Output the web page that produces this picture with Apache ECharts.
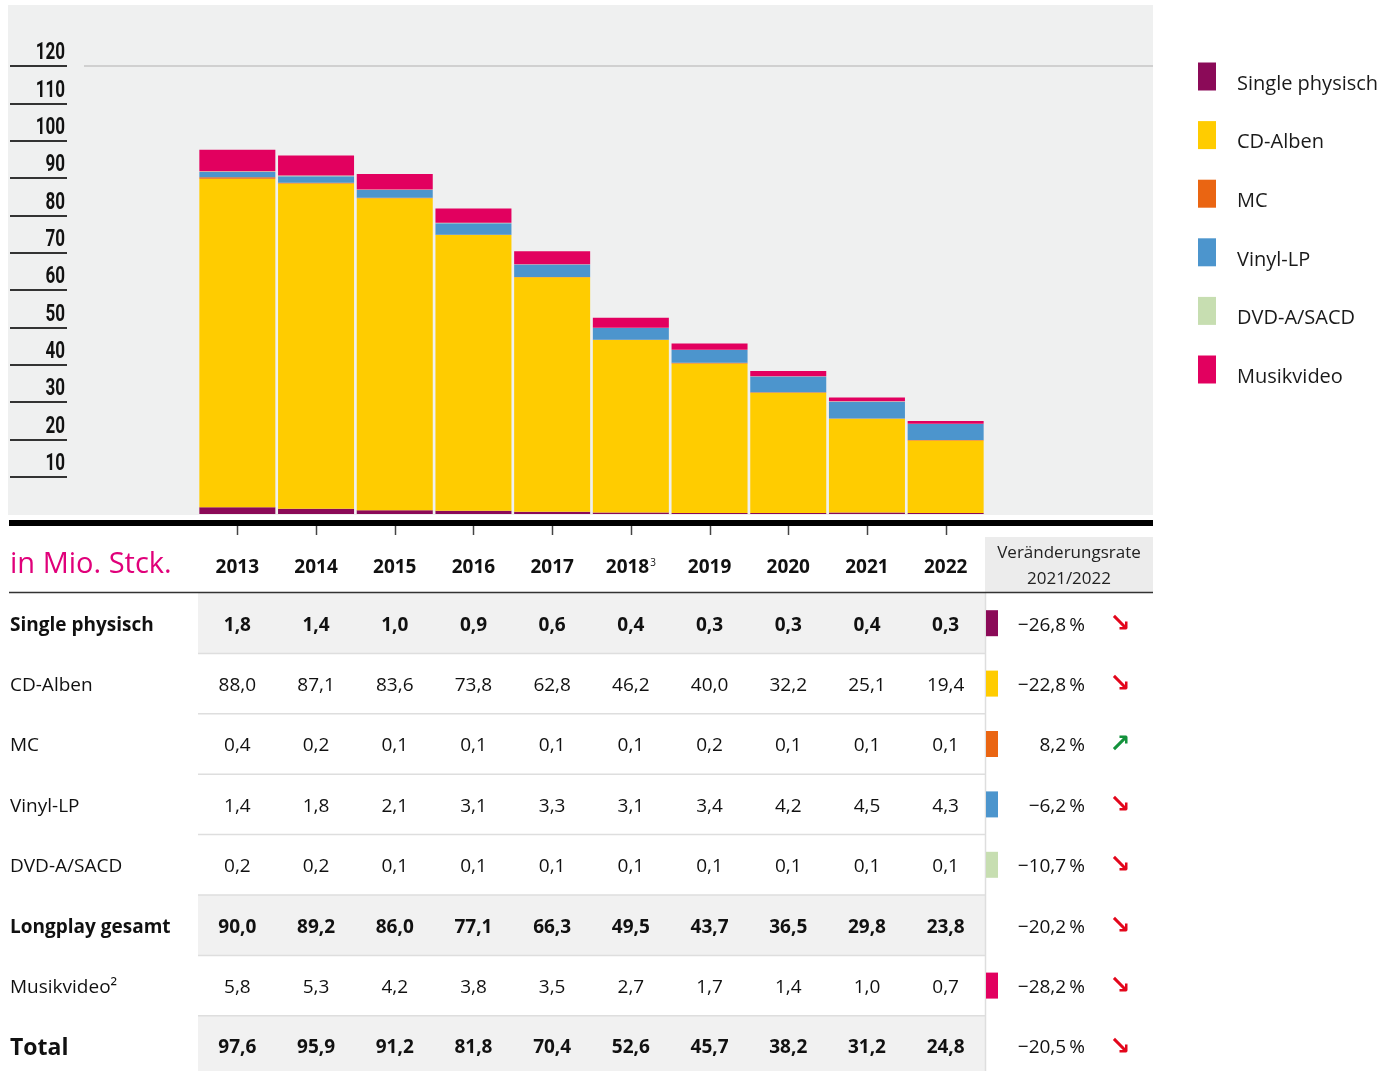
<!DOCTYPE html>
<html>
<head>
<meta charset="utf-8">
<script src="https://cdn.jsdelivr.net/npm/echarts@6/dist/echarts.min.js"></script>
<style>
html,body{margin:0;padding:0;background:#fff;}
#chart{width:1382px;height:1071px;}
</style>
</head>
<body>
<div id="chart"></div>
<script>
var years = ['2013','2014','2015','2016','2017','2018','2019','2020','2021','2022'];
var yearNotes = {'2018': '3'};
var yTicks = [10,20,30,40,50,60,70,80,90,100,110,120];

var singlePhysisch = [1.8,1.4,1.0,0.9,0.6,0.4,0.3,0.3,0.4,0.3];
var cdAlben        = [88.0,87.1,83.6,73.8,62.8,46.2,40.0,32.2,25.1,19.4];
var mc             = [0.4,0.2,0.1,0.1,0.1,0.1,0.2,0.1,0.1,0.1];
var vinylLp        = [1.4,1.8,2.1,3.1,3.3,3.1,3.4,4.2,4.5,4.3];
var dvdSacd        = [0.2,0.2,0.1,0.1,0.1,0.1,0.1,0.1,0.1,0.1];
var musikvideo     = [5.8,5.3,4.2,3.8,3.5,2.7,1.7,1.4,1.0,0.7];
var longplayGesamt = [90.0,89.2,86.0,77.1,66.3,49.5,43.7,36.5,29.8,23.8];
var total          = [97.6,95.9,91.2,81.8,70.4,52.6,45.7,38.2,31.2,24.8];

var seriesNames  = ['Single physisch','CD-Alben','MC','Vinyl-LP','DVD-A/SACD','Musikvideo'];
var seriesData   = [singlePhysisch, cdAlben, mc, vinylLp, dvdSacd, musikvideo];
var seriesColors = ['#8b0a58','#ffcc00','#ea6512','#4c95cd','#c7deb1','#e2005f'];

var rowLabels  = ['Single physisch','CD-Alben','MC','Vinyl-LP','DVD-A/SACD','Longplay gesamt','Musikvideo\u00b2','Total'];
var rowValues  = [singlePhysisch, cdAlben, mc, vinylLp, dvdSacd, longplayGesamt, musikvideo, total];
var rowBold    = [true,false,false,false,false,true,false,true];
var rowSwatch  = ['#8b0a58','#ffcc00','#ea6512','#4c95cd','#c7deb1',null,'#e2005f',null];
var changeRate = [-26.8,-22.8,8.2,-6.2,-10.7,-20.2,-28.2,-20.5];

var FONT = '"Open Sans","Noto Sans",sans-serif';

function fmt(v){ return v.toFixed(1).replace('.', ','); }
function fmtRate(r){ return (r < 0 ? '\u2212' : '') + Math.abs(r).toFixed(1).replace('.', ',') + '\u2009%'; }

var chart = echarts.init(document.getElementById('chart'), null, {renderer: 'canvas'});

var series = seriesNames.map(function(name, i){
  return {
    name: name,
    type: 'bar',
    stack: 'total',
    data: seriesData[i],
    barWidth: 76,
    itemStyle: {color: seriesColors[i]},
    emphasis: {disabled: true}
  };
});

var option = {
  animation: false,
  textStyle: {fontFamily: FONT},
  grid: {left: 198, right: 397, top: 66, bottom: 557},
  legend: {
    orient: 'vertical',
    left: 1198,
    top: 59,
    padding: 0,
    icon: 'rect',
    itemWidth: 18,
    itemHeight: 28,
    itemGap: 23.6,
    selectedMode: false,
    data: seriesNames,
    formatter: function(name){ return '{t|' + name + '}'; },
    textStyle: {
      rich: {
        t: {fontSize: 20, lineHeight: 20, color: '#1a1a1a', fontFamily: FONT, padding: [15, 0, 0, 16]}
      }
    }
  },
  xAxis: {
    type: 'category',
    data: years,
    offset: 11,
    axisLine: {show: false},
    axisTick: {show: false},
    axisLabel: {
      interval: 0,
      margin: 33,
      formatter: function(v){
        return yearNotes[v] ? '{a|' + v + '}{s|' + yearNotes[v] + '}' : '{a|' + v + '}';
      },
      rich: {
        a: {fontSize: 19, fontWeight: 'bold', color: '#111', fontFamily: FONT},
        s: {fontSize: 10, color: '#111', fontFamily: FONT, padding: [0, 0, 9, 1]}
      }
    }
  },
  yAxis: {
    type: 'value',
    min: 0,
    max: 120,
    interval: 10,
    offset: 131,
    axisLine: {show: false},
    splitLine: {show: false},
    axisTick: {show: true, customValues: yTicks, length: 57, lineStyle: {color: '#333', width: 2}},
    axisLabel: {show: false}
  },
  series: series
};
chart.setOption(option);

// positions taken from the axes
var xs = years.map(function(y){ return chart.convertToPixel({xAxisIndex: 0}, y); });
var band = xs[1] - xs[0];
var tLeft = xs[0] - band / 2;
var tRight = xs[xs.length - 1] + band / 2;
var rowTop = 593, rowH = 60.4;

var g = [];
// gray panel behind bars
g.push({type: 'rect', z: -10, shape: {x: 8, y: 5, width: 1145, height: 510}, style: {fill: '#eff0f0'}});
g.push({type: 'line', z: -5, shape: {x1: 84, y1: 66, x2: 1153, y2: 66}, style: {stroke: '#d0d0d0', lineWidth: 2}});
g.push({type: 'rect', shape: {x: 9, y: 520, width: 1144, height: 6}, style: {fill: '#000'}});

// condensed y labels sitting on their tick lines
yTicks.forEach(function(v){
  var py = chart.convertToPixel({yAxisIndex: 0}, v);
  g.push({type: 'text', x: 65, y: py - 1, scaleX: 0.74, style: {text: String(v), font: 'bold 23px Roboto, sans-serif', fill: '#111', align: 'right', verticalAlign: 'bottom'}});
});
// x ticks below the black rule
xs.forEach(function(px){
  g.push({type: 'line', shape: {x1: Math.round(px) + 0.5, y1: 526, x2: Math.round(px) + 0.5, y2: 535}, style: {stroke: '#444', lineWidth: 1.5}});
});

// header
g.push({type: 'text', x: 10, y: 565, style: {text: 'in Mio. Stck.', font: '29px ' + FONT, fill: '#e0007a', verticalAlign: 'middle'}});
g.push({type: 'rect', shape: {x: 985, y: 537, width: 168, height: 55}, style: {fill: '#ececec'}});
g.push({type: 'text', x: 1069, y: 553, style: {text: 'Ver\u00e4nderungsrate', font: '17px ' + FONT, fill: '#222', align: 'center', verticalAlign: 'middle'}});
g.push({type: 'text', x: 1069, y: 579, style: {text: '2021/2022', font: '17px ' + FONT, fill: '#222', align: 'center', verticalAlign: 'middle'}});

// gray cells for the bold rows
rowLabels.forEach(function(lab, r){
  if (rowBold[r]) {
    g.push({type: 'rect', z: -2, shape: {x: tLeft, y: rowTop + r * rowH, width: tRight - tLeft, height: rowH}, style: {fill: '#f1f1f1'}});
  }
});
// row separators
for (var r = 1; r < rowLabels.length; r++) {
  var yy = rowTop + r * rowH;
  g.push({type: 'line', z: -1, shape: {x1: tLeft, y1: yy, x2: tRight, y2: yy}, style: {stroke: '#dedede', lineWidth: 1.5}});
}
g.push({type: 'line', shape: {x1: tRight + 0.5, y1: 592, x2: tRight + 0.5, y2: 1071}, style: {stroke: '#dedede', lineWidth: 1.5}});
g.push({type: 'line', shape: {x1: 9, y1: 592.5, x2: 1153, y2: 592.5}, style: {stroke: '#333', lineWidth: 1.5}});

rowLabels.forEach(function(lab, r){
  var cy = rowTop + (r + 0.5) * rowH + 2;
  var isTotal = lab === 'Total';
  var weight = rowBold[r] ? 'bold ' : '';
  g.push({type: 'text', x: 10, y: cy, style: {text: lab, font: weight + (isTotal ? '23px ' : '19px ') + FONT, fill: '#111', verticalAlign: 'middle'}});
  rowValues[r].forEach(function(v, c){
    g.push({type: 'text', x: xs[c], y: cy, style: {text: fmt(v), font: weight + '19px ' + FONT, fill: '#111', align: 'center', verticalAlign: 'middle'}});
  });
  if (rowSwatch[r]) {
    g.push({type: 'rect', shape: {x: tRight + 1, y: cy - 15, width: 12, height: 26}, style: {fill: rowSwatch[r]}});
  }
  g.push({type: 'text', x: 1085, y: cy, style: {text: fmtRate(changeRate[r]), font: '19px ' + FONT, fill: '#111', align: 'right', verticalAlign: 'middle'}});
  var up = changeRate[r] > 0;
  g.push({type: 'text', x: 1120, y: cy - 1, style: {text: up ? '\u2197' : '\u2198', font: 'bold 25px "DejaVu Sans"', fill: up ? '#13923c' : '#e3061b', align: 'center', verticalAlign: 'middle'}});
});

chart.setOption({graphic: g});
</script>
</body>
</html>
